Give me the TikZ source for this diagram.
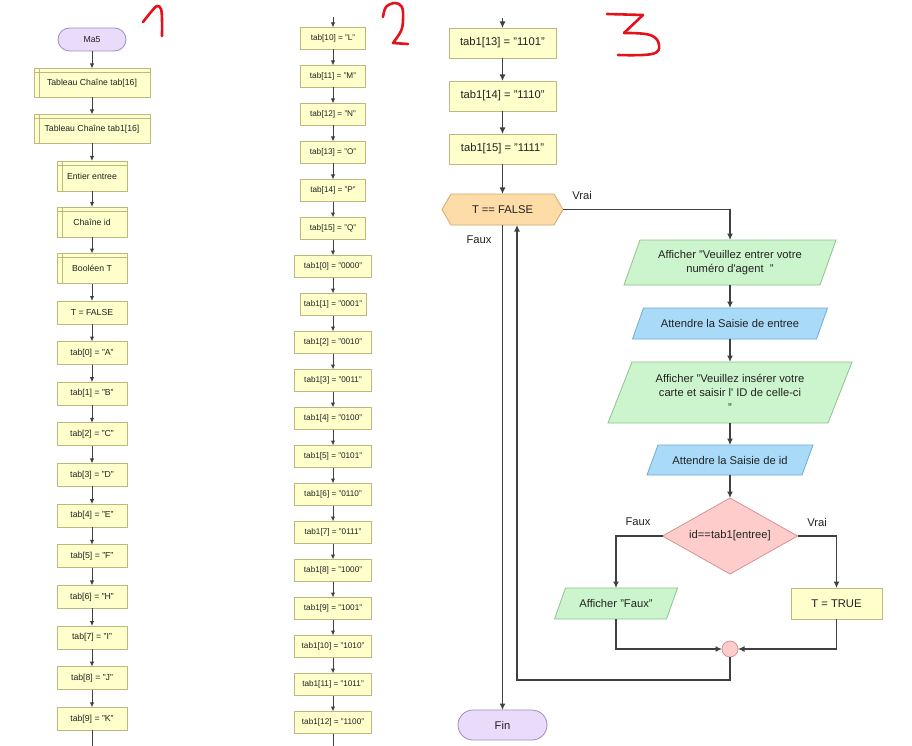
\documentclass[tikz,border=0pt]{standalone}
\usepackage{fontspec}
\setmainfont{Liberation Sans}
\usetikzlibrary{arrows.meta,shapes.geometric,shapes.misc,backgrounds}

\definecolor{declfill}{HTML}{FFFFCC}
\definecolor{declline}{HTML}{BDB780}
\definecolor{termfill}{HTML}{E8DCFA}
\definecolor{termline}{HTML}{A08CC0}
\definecolor{loopfill}{HTML}{FDDCA8}
\definecolor{loopline}{HTML}{D2AA6A}
\definecolor{outfill}{HTML}{CDF5CD}
\definecolor{outborder}{HTML}{8CC48C}
\definecolor{infill}{HTML}{A9DAF8}
\definecolor{inborder}{HTML}{72AAD2}
\definecolor{iffill}{HTML}{FFCCCC}
\definecolor{ifborder}{HTML}{D49494}
\definecolor{wire}{HTML}{404040}
\definecolor{ink}{HTML}{222222}
\definecolor{pen}{HTML}{E3121B}

\tikzset{
  every node/.style={text=ink, outer sep=0pt, inner sep=1pt},
  fontA/.style={font=\fontsize{8.7}{10}\selectfont},
  fontB/.style={font=\fontsize{8.2}{9.5}\selectfont},
  fontC/.style={font=\fontsize{11.2}{14.5}\selectfont},
  assign/.style={rectangle, draw=declline, fill=declfill, line width=0.8pt, align=center},
  declare/.style={assign, path picture={
      \draw[declline, line width=0.8pt]
        ([xshift=5.5pt]path picture bounding box.north west) -- ([xshift=5.5pt]path picture bounding box.south west)
        ([yshift=-4pt]path picture bounding box.north west) -- ([yshift=-4pt]path picture bounding box.north east);}},
  terminal/.style={rounded rectangle, draw=termline, fill=termfill, line width=0.8pt},
  outshape/.style={draw=outborder, fill=outfill, line width=0.8pt},
  inshape/.style={draw=inborder, fill=infill, line width=0.8pt},
  loopshape/.style={draw=loopline, fill=loopfill, line width=0.8pt},
  flowS/.style={draw=wire, line width=1pt, -{Latex[length=5pt,width=4.5pt]}},
  flowL/.style={draw=wire, line width=1.8pt, -{Latex[length=6.5pt,width=6pt]}},
  wireL/.style={draw=wire, line width=1.8pt},
  wireS/.style={draw=wire, line width=1pt},
  numeral/.style={draw=pen, line width=2.6pt, line cap=round, line join=round},
}

% parallelogram behind a rectangular node
\newcommand{\drawslant}[3]{%
  \begin{scope}[on background layer]
    \path[#3] ([xshift=#2]#1.north west) -- ([xshift=#2]#1.north east)
      -- ([xshift=-#2]#1.south east) -- ([xshift=-#2]#1.south west) -- cycle;
  \end{scope}}
% hexagon behind a rectangular node
\newcommand{\drawhex}[3]{%
  \begin{scope}[on background layer]
    \path[#3] (#1.west) -- ([xshift=#2]#1.north west) -- ([xshift=-#2]#1.north east)
      -- (#1.east) -- ([xshift=-#2]#1.south east) -- ([xshift=#2]#1.south west) -- cycle;
  \end{scope}}

\begin{document}
\begin{tikzpicture}[x=1pt, y=-1pt]
\useasboundingbox (0,0) rectangle (912,746);
\begin{scope}[on background layer]
  \fill[white] (0,0) rectangle (912,746);
\end{scope}

% ---------- first column: declarations and tab[0..9]
\node[terminal, fontA, minimum width=70pt, minimum height=23pt] (ma5) at (92,39.5) {Ma5};
\node[declare, fontA, minimum width=116pt, minimum height=29pt] (d1) at (92,83) {Tableau Chaîne tab[16]};
\node[declare, fontA, minimum width=116pt, minimum height=29pt] (d2) at (92,129) {Tableau Chaîne tab1[16]};
\node[declare, fontA, minimum width=70pt, minimum height=30pt] (d3) at (92,176) {Entier entree};
\node[declare, fontA, minimum width=70pt, minimum height=30pt] (d4) at (92,222) {Chaîne id};
\node[declare, fontA, minimum width=70pt, minimum height=30pt] (d5) at (92,268.5) {Booléen T};
\node[assign, fontA, minimum width=70pt, minimum height=23pt] (a0) at (92,312.5) {T = FALSE};
\foreach \i/\l in {0/A,1/B,2/C,3/D,4/E,5/F,6/H,7/I,8/J,9/K}
  \node[assign, fontA, minimum width=70pt, minimum height=23pt] (t\i) at (92,{353+40.65*\i}) {tab[\i] = "\l"};
\coordinate (end1) at (92,746);

\foreach \a/\b in {ma5/d1,d1/d2,d2/d3,d3/d4,d4/d5,d5/a0,a0/t0}
  \draw[flowS] (\a) -- (\b);
\foreach \i [evaluate=\i as \j using int(\i+1)] in {0,...,8}
  \draw[flowS] (t\i) -- (t\j);
\draw[wireS] (t9) -- (end1);

% ---------- second column: tab[10..15] and tab1[0..12]
\coordinate (top2) at (333,17);
\foreach \i/\l in {10/L,11/M,12/N,13/O,14/P,15/Q}
  \node[assign, fontB, minimum width=65pt, minimum height=22pt] (u\i) at (333,{38.5+38*(\i-10)}) {tab[\i] = "\l"};
\foreach \k/\v/\w in {0/0000/77,1/0001/66,2/0010/77,3/0011/77,4/0100/77,5/0101/77,6/0110/77,7/0111/77,8/1000/77,9/1001/77,10/1010/77,11/1011/77,12/1100/77}
  \node[assign, fontB, minimum width=\w pt, minimum height=22pt] (v\k) at (333,{266.5+38*\k}) {tab1[\k] = "\v"};
\coordinate (end2) at (333,746);

\draw[flowS] (top2) -- (u10);
\foreach \i [evaluate=\i as \j using int(\i+1)] in {10,...,14}
  \draw[flowS] (u\i) -- (u\j);
\draw[flowS] (u15) -- (v0);
\foreach \i [evaluate=\i as \j using int(\i+1)] in {0,...,11}
  \draw[flowS] (v\i) -- (v\j);
\draw[wireS] (v12) -- (end2);

% ---------- third column: tab1[13..15] and the loop
\coordinate (top3) at (502.5,18);
\node[assign, fontC, minimum width=107pt, minimum height=30pt] (w13) at (502.5,43) {tab1[13] = "1101"};
\node[assign, fontC, minimum width=107pt, minimum height=30pt] (w14) at (502.5,96) {tab1[14] = "1110"};
\node[assign, fontC, minimum width=107pt, minimum height=30pt] (w15) at (502.5,149) {tab1[15] = "1111"};

\node[fontC, minimum width=121pt, minimum height=31pt] (loop) at (502.5,209.5) {T == FALSE};
\drawhex{loop}{9pt}{loopshape}

\node[fontC, align=center, minimum width=196pt, minimum height=45pt] (p1) at (730,262.5)
  {Afficher "Veuillez entrer votre\\numéro d\textquotesingle agent\ \ "};
\drawslant{p1}{8pt}{outshape}
\node[fontC, minimum width=184pt, minimum height=31pt] (p2) at (730,323.5) {Attendre la Saisie de entree};
\drawslant{p2}{5.5pt}{inshape}
\node[fontC, align=center, minimum width=220pt, minimum height=61pt] (p3) at (730,392.5)
  {Afficher "Veuillez insérer votre\\carte et saisir l\textquotesingle\ ID de celle-ci\\"};
\drawslant{p3}{12pt}{outshape}
\node[fontC, minimum width=155pt, minimum height=30pt] (p4) at (730,460) {Attendre la Saisie de id};
\drawslant{p4}{5.5pt}{inshape}

\node[diamond, aspect=1.78, draw=ifborder, fill=iffill, line width=0.8pt, inner sep=0pt,
      minimum width=135pt, minimum height=76pt, fontC] (cond) at (730,536) {id==tab1[entree]};
\node[fontC, minimum width=112pt, minimum height=31pt] (pfaux) at (616,603.5) {Afficher "Faux"};
\drawslant{pfaux}{5.5pt}{outshape}
\node[assign, fontC, minimum width=91pt, minimum height=31pt] (ttrue) at (836.5,603.5) {T = TRUE};
\node[circle, draw=ifborder, fill=iffill, line width=0.8pt, minimum size=16pt, inner sep=0pt] (junc) at (730,649) {};
\node[terminal, fontC, minimum width=91pt, minimum height=30pt] (fin) at (502.5,725) {Fin};

\node[fontC] (lv1) at (582,195) {Vrai};
\node[fontC] (lf1) at (479,240) {Faux};
\node[fontC] (lf2) at (638,522) {Faux};
\node[fontC] (lv2) at (817,522) {Vrai};

\coordinate (back) at (517,680);

\draw[flowL] (top3) -- (w13);
\draw[flowL] (w13) -- (w14);
\draw[flowL] (w14) -- (w15);
\draw[flowL] (w15) -- (loop);
\draw[flowL] (loop.east) -| (p1.north);
\draw[flowL] (p1) -- (p2);
\draw[flowL] (p2) -- (p3);
\draw[flowL] (p3) -- (p4);
\draw[flowL] (p4) -- (cond);
\draw[flowL] (cond.west) -| (pfaux.north);
\draw[flowL] (cond.east) -| (ttrue.north);
\draw[flowL] (pfaux.south) |- (junc.west);
\draw[flowL] (ttrue.south) |- (junc.east);
\draw[flowL] (junc.south) |- (back) -- (back |- loop.south);
\draw[flowL] (loop.south) -- (fin.north);

% ---------- handwritten column numbers
\draw[numeral] plot[smooth, tension=0.6] coordinates {(143,22) (151,12) (157,6) (161,9) (162,20) (162,36)};
\draw[numeral] plot[smooth, tension=0.6] coordinates {(383,17) (386,7) (395,3) (402,7) (403,20) (401,31) (393,43)} -- (408,44);
\draw[numeral] (607,14) -- (643,15) -- (624,33);
\draw[numeral] plot[smooth, tension=0.7] coordinates {(624,33) (650,35) (659,45) (652,54) (618,55)};
\end{tikzpicture}
\end{document}
